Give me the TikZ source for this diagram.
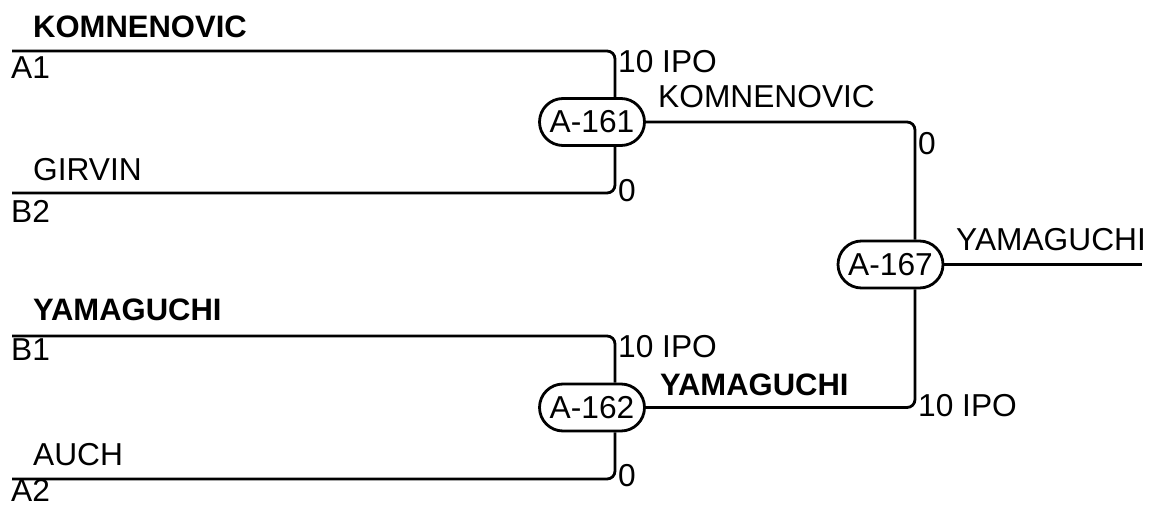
\documentclass[tikz,border=0pt]{standalone}
\usepackage{fontspec}
\setmainfont{Liberation Sans}
\begin{document}
\begin{tikzpicture}[x=1pt,y=-1pt,
  wire/.style={line width=2.8pt,rounded corners=8pt},
  match/.style={draw,line width=2.8pt,rectangle,rounded corners=23.5pt,minimum width=105pt,minimum height=47pt,inner sep=0pt,font=\fontsize{31.7}{36}\selectfont},
  lbl/.style={anchor=base west,inner sep=0pt,font=\fontsize{31.7}{36}\selectfont},
  blbl/.style={lbl,font=\fontsize{31}{36}\selectfont\bfseries}]
\useasboundingbox (0,0) rectangle (1150,508);
% match nodes
\node[match] (A161) at (592,122) {A-161};
\node[match] (A162) at (592,407.5) {A-162};
\node[match] (A167) at (890.5,264.5) {A-167};
% coordinates
\coordinate (a1s) at (12,51);
\coordinate (b2s) at (12,193);
\coordinate (b1s) at (12,336);
\coordinate (a2s) at (12,479);
\coordinate (v1) at (615,0);
\coordinate (v2) at (915,0);
\coordinate (fin) at (1142,264.5);
% connectors
\draw[wire] (a1s) -| (A161.north -| v1);
\draw[wire] (b2s) -| (A161.south -| v1);
\draw[wire] (b1s) -| (A162.north -| v1);
\draw[wire] (a2s) -| (A162.south -| v1);
\draw[wire] (A161.east) -| (A167.north -| v2);
\draw[wire] (A162.east) -| (A167.south -| v2);
\draw[wire] (A167.east) -- (fin);
% left labels
\node[blbl] (t1) at (33,38) {KOMNENOVIC};
\node[lbl] (s1) at (11,79) {A1};
\node[lbl] (t2) at (33,180) {GIRVIN};
\node[lbl] (s2) at (11,222) {B2};
\node[blbl] (t3) at (33,320) {YAMAGUCHI};
\node[lbl] (s3) at (11,360) {B1};
\node[lbl] (t4) at (33,465) {AUCH};
\node[lbl] (s4) at (11,501) {A2};
% scores and winners
\node[lbl] (c1) at (618,73) {10 IPO};
\node[lbl] (c2) at (618,201) {0};
\node[lbl] (w1) at (658,107) {KOMNENOVIC};
\node[lbl] (c3) at (618,357) {10 IPO};
\node[lbl] (c4) at (618,486) {0};
\node[blbl] (w2) at (660,395) {YAMAGUCHI};
\node[lbl] (c5) at (918,154) {0};
\node[lbl] (c6) at (918,416) {10 IPO};
\node[lbl] (w3) at (956,250) {YAMAGUCHI};
\end{tikzpicture}
\end{document}
